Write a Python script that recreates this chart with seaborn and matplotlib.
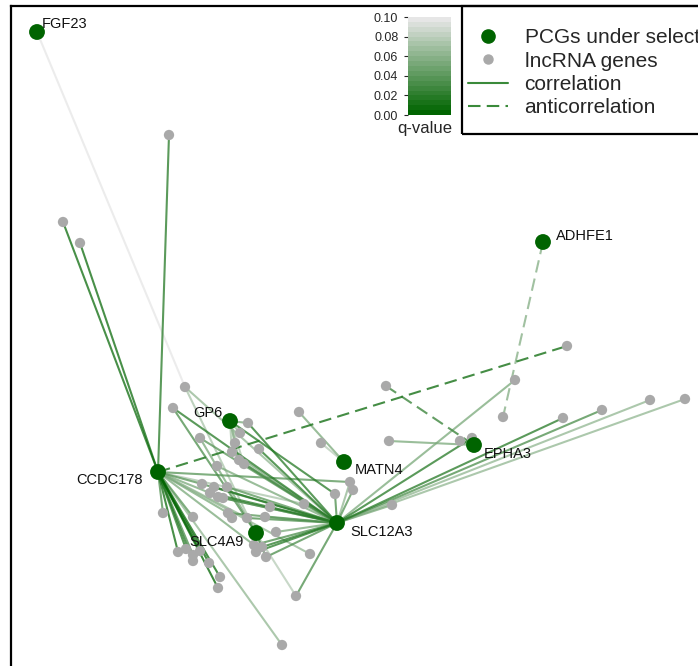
import numpy as np
import pandas as pd
import matplotlib
matplotlib.use("Agg")
import matplotlib.pyplot as plt
import seaborn as sns
from matplotlib.colors import LinearSegmentedColormap, Normalize
from matplotlib.lines import Line2D
from matplotlib.patches import Rectangle
from matplotlib.collections import LineCollection

# ---------------- data (layout coordinates) ----------------
pcg_names = ["FGF23", "ADHFE1", "GP6", "CCDC178", "MATN4", "EPHA3", "SLC4A9", "SLC12A3"]
pcg_x = [37, 543, 230, 158, 344, 474, 256, 337]
pcg_y = [32, 242, 421, 472, 462, 445, 533, 523]

lnc_names = [f"L{i:02d}" for i in range(1, 62)]
lnc_x = [169, 63, 80, 567, 515, 503, 386, 389, 460, 472, 563, 602, 650, 685, 392,
         299, 321, 350, 353, 335, 304, 185, 173, 248, 240, 200, 235, 259, 232, 239,
         244, 217, 202, 214, 227, 210, 218, 223, 163, 193, 270, 228, 232, 247, 265,
         276, 178, 186, 193, 200, 193, 209, 220, 218, 254, 256, 262, 266, 310, 296, 282]
lnc_y = [135, 222, 243, 346, 380, 417, 386, 441, 441, 438, 418, 410, 400, 399, 505,
         412, 443, 482, 490, 494, 504, 387, 408, 423, 433, 438, 443, 449, 452, 460,
         464, 466, 484, 487, 487, 493, 497, 498, 513, 517, 507, 513, 518, 518, 517,
         532, 552, 549, 555, 551, 561, 563, 577, 588, 545, 552, 547, 557, 554, 596, 645]

edge_src = (["FGF23"] +
            ["CCDC178"] * 23 +
            ["SLC12A3"] * 36 +
            ["GP6"] * 7 +
            ["SLC4A9"] * 8 +
            ["MATN4"] * 2 +
            ["EPHA3"] * 3 +
            ["ADHFE1"])
edge_dst = (["L22"] +
            ["L01", "L02", "L03", "L04", "L18", "L39", "L47", "L48", "L49", "L50", "L51", "L52",
             "L53", "L54", "L40", "L61", "L42", "L44", "L55", "L21", "L59", "L33", "L36"] +
            ["L22", "L23", "L26", "L24", "L28", "L29", "L30", "L31", "L32", "L33", "L34", "L35",
             "L36", "L37", "L38", "L42", "L44", "L45", "L41", "L21", "L20", "L19", "L18", "L15",
             "L05", "L10", "L11", "L12", "L13", "L14", "L60", "L55", "L56", "L57", "L58", "L46"] +
            ["L24", "L25", "L27", "L29", "L30", "L31", "L20"] +
            ["L23", "L26", "L55", "L56", "L57", "L58", "L60", "L22"] +
            ["L16", "L17"] +
            ["L07", "L08", "L09"] +
            ["L06"])
edge_q = ([0.10] +
          [0.015, 0.01, 0.01, 0.02, 0.04, 0.03, 0.01, 0.02, 0.03, 0.01, 0.02, 0.01,
           0.01, 0.005, 0.04, 0.06, 0.05, 0.06, 0.05, 0.07, 0.06, 0.04, 0.05] +
          [0.06, 0.02, 0.04, 0.02, 0.02, 0.05, 0.04, 0.03, 0.05, 0.03, 0.02, 0.04,
           0.02, 0.03, 0.05, 0.04, 0.03, 0.05, 0.06, 0.04, 0.03, 0.04, 0.06, 0.05,
           0.05, 0.02, 0.02, 0.03, 0.06, 0.06, 0.03, 0.03, 0.02, 0.02, 0.03, 0.05] +
          [0.05, 0.06, 0.06, 0.07, 0.06, 0.07, 0.02] +
          [0.03, 0.05, 0.03, 0.03, 0.05, 0.04, 0.08, 0.07] +
          [0.05, 0.08] +
          [0.03, 0.05, 0.06] +
          [0.06])
edge_type = (["correlation"] +
             ["correlation"] * 3 + ["anticorrelation"] + ["correlation"] * 19 +
             ["correlation"] * 36 +
             ["correlation"] * 7 +
             ["correlation"] * 8 +
             ["correlation"] * 2 +
             ["anticorrelation", "correlation", "correlation"] +
             ["anticorrelation"])

cbar_ticks = [0.00, 0.02, 0.04, 0.06, 0.08, 0.10]
legend_labels = ["PCGs under selection", "lncRNA genes", "correlation", "anticorrelation"]

# ---------------- styling ----------------
W, H, DPI = 698, 666, 100
sns.set_style("white")
plt.rcParams["font.family"] = ["Liberation Sans", "DejaVu Sans"]

pcg_color = "#006400"
lnc_color = "#a9a9a9"
cmap = LinearSegmentedColormap.from_list("qv", ["#006400", "#e6e6e6"], N=20)
norm = Normalize(0, 0.10)
dash = (0, (6, 3))

fig = plt.figure(figsize=(W / DPI, H / DPI), dpi=DPI)
# axes frame: left edge at x=11px, top at y=6px, right/bottom beyond the canvas
x0, x1, y0, y1 = 11, 720, 6, 690
ax = fig.add_axes([x0 / W, 1 - y1 / H, (x1 - x0) / W, (y1 - y0) / H])
ax.set_xlim(x0, x1)
ax.set_ylim(y1, y0)
ax.set_xticks([])
ax.set_yticks([])
for s in ax.spines.values():
    s.set_color("black")
    s.set_linewidth(1.6)

pcg = pd.DataFrame({"name": pcg_names, "x": pcg_x, "y": pcg_y})
lnc = pd.DataFrame({"name": lnc_names, "x": lnc_x, "y": lnc_y})
pos = {**{n: (x, y) for n, x, y in zip(pcg_names, pcg_x, pcg_y)},
       **{n: (x, y) for n, x, y in zip(lnc_names, lnc_x, lnc_y)}}

edges = pd.DataFrame({"src": edge_src, "dst": edge_dst, "q": edge_q, "type": edge_type})
edges = edges.sort_values("q", ascending=False)
for t, ls, a in [("correlation", "solid", 0.75), ("anticorrelation", dash, 0.85)]:
    sub = edges[edges["type"] == t]
    segs = [[pos[s_], pos[d_]] for s_, d_ in zip(sub["src"], sub["dst"])]
    lc = LineCollection(segs, colors=[cmap(norm(q)) for q in sub["q"]],
                        linewidths=1.5, linestyles=ls, alpha=a, zorder=1)
    ax.add_collection(lc)

sns.scatterplot(data=lnc, x="x", y="y", ax=ax, color=lnc_color, s=55,
                edgecolor="none", zorder=3, legend=False)
sns.scatterplot(data=pcg, x="x", y="y", ax=ax, color=pcg_color, s=130,
                edgecolor="none", zorder=4, legend=False)
ax.set_xlabel("")
ax.set_ylabel("")

# labels: offsets in pixels (dx right, dy down)
label_style = {
    "FGF23": (5, -8, "left"), "ADHFE1": (13, -6, "left"), "GP6": (-8, -8, "right"),
    "CCDC178": (-15, 8, "right"), "MATN4": (11, 8, "left"), "EPHA3": (10, 9, "left"),
    "SLC4A9": (-12, 9, "right"), "SLC12A3": (13, 9, "left"),
}
px2pt = 72 / DPI
for n, x, y in zip(pcg_names, pcg_x, pcg_y):
    dx, dy, ha = label_style[n]
    ax.annotate(n, (x, y), xytext=(dx * px2pt, -dy * px2pt), textcoords="offset points",
                ha=ha, va="center", fontsize=10.5, color="#111111", zorder=5)

# colorbar inset
cax = fig.add_axes([408 / W, 1 - 115 / H, 43 / W, 98 / H])
sm = plt.cm.ScalarMappable(cmap=cmap, norm=norm)
cb = fig.colorbar(sm, cax=cax, ticks=cbar_ticks, ticklocation="left")
cb.outline.set_visible(False)
cb.ax.tick_params(labelsize=9, length=3, width=0.8, pad=4)
cb.ax.set_yticklabels([f"{t:.2f}" for t in cbar_ticks])
fig.text(425 / W, 1 - 128 / H, "q-value", ha="center", va="center", fontsize=12)

# legend (frame drawn separately so it can run off the right edge like the original)
handles = [
    Line2D([], [], marker="o", ls="none", color=pcg_color, markersize=9.5),
    Line2D([], [], marker="o", ls="none", color=lnc_color, markersize=6.5),
    Line2D([], [], ls="solid", color="#3a8a3a", lw=1.5),
    Line2D([], [], ls=dash, color="#3a8a3a", lw=1.5),
]
leg = fig.legend(handles, legend_labels, loc="upper left",
                 bbox_to_anchor=(461 / W, 1 - 21 / H), bbox_transform=fig.transFigure,
                 borderaxespad=0, fontsize=15, frameon=False,
                 handlelength=1.9, handletextpad=0.8, labelspacing=0.21,
                 borderpad=0.35)
fig.patches.append(Rectangle((462 / W, 1 - 134 / H), 0.5, 128 / H,
                             transform=fig.transFigure, fill=False,
                             edgecolor="black", linewidth=1.6, zorder=10))

fig.savefig("out.png", dpi=DPI)
